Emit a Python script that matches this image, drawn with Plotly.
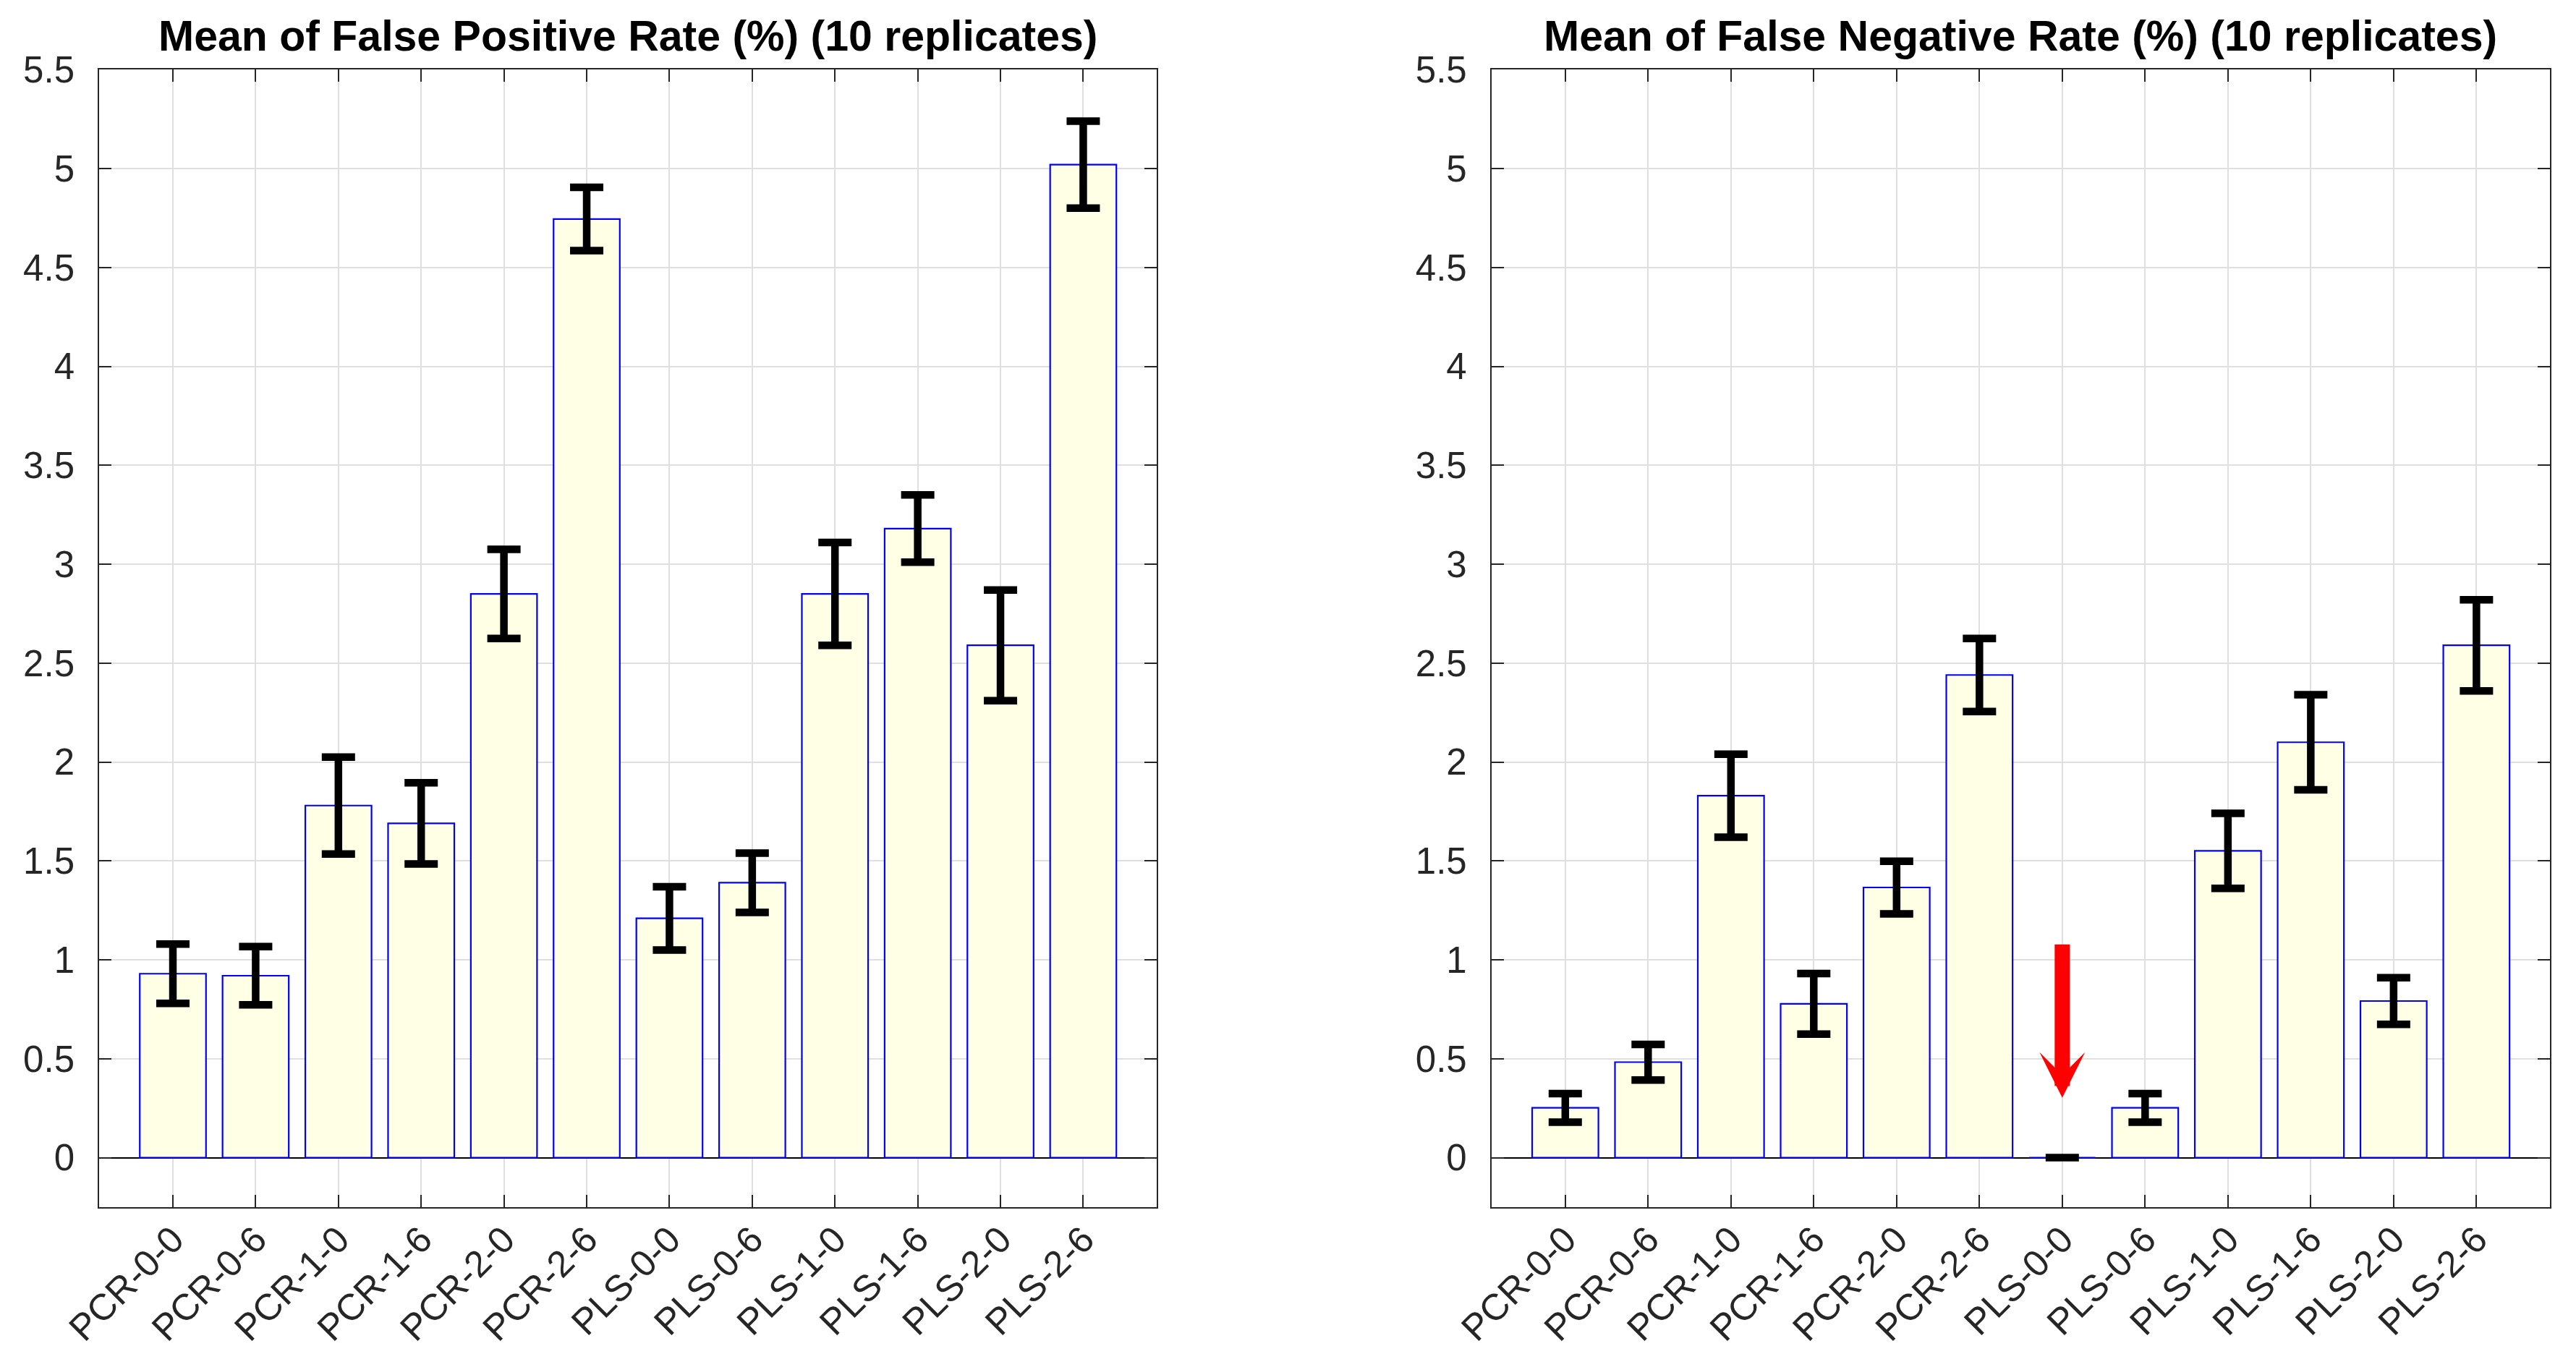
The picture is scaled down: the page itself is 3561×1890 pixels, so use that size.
import plotly.graph_objects as go

categories = ["PCR-0-0", "PCR-0-6", "PCR-1-0", "PCR-1-6", "PCR-2-0", "PCR-2-6",
              "PLS-0-0", "PLS-0-6", "PLS-1-0", "PLS-1-6", "PLS-2-0", "PLS-2-6"]

fpr_mean = [0.93, 0.92, 1.78, 1.69, 2.85, 4.745, 1.21, 1.39, 2.85, 3.18, 2.59, 5.02]
fpr_err = [0.15, 0.147, 0.245, 0.205, 0.225, 0.16, 0.16, 0.15, 0.26, 0.17, 0.28, 0.22]

fnr_mean = [0.252, 0.483, 1.83, 0.778, 1.366, 2.44, 0.0, 0.252, 1.551, 2.10, 0.792, 2.59]
fnr_err = [0.072, 0.09, 0.21, 0.153, 0.133, 0.185, 0.0, 0.072, 0.19, 0.24, 0.118, 0.23]

titles = ["Mean of False Positive Rate (%) (10 replicates)",
          "Mean of False Negative Rate (%) (10 replicates)"]

y_ticks = [0, 0.5, 1, 1.5, 2, 2.5, 3, 3.5, 4, 4.5, 5, 5.5]
y_tick_text = ["0", "0.5", "1", "1.5", "2", "2.5", "3", "3.5", "4", "4.5", "5", "5.5"]

arrow_category = "PLS-0-0"
arrow_tail = 1.084
arrow_tip = 0.303

W, H = 3561, 1890
FONT = "Liberation Sans, Arial, Helvetica, sans-serif"
AX = "#262626"

left_dom = [129.3 / W, 1590.7 / W]
right_dom = [2054.0 / W, 3516.7 / W]
y_dom = [1 - 1661.0 / H, 1 - 88.3 / H]

fig = go.Figure()

for i, (vals, errs) in enumerate([(fpr_mean, fpr_err), (fnr_mean, fnr_err)]):
    xa = "x" if i == 0 else "x2"
    ya = "y" if i == 0 else "y2"
    fig.add_trace(go.Bar(
        x=categories, y=vals, width=0.8,
        marker=dict(color="#FFFFE6", line=dict(color="#0000FF", width=2.2)),
        error_y=dict(type="data", array=errs, visible=True, color="#000000",
                     thickness=10.5, width=23),
        xaxis=xa, yaxis=ya, showlegend=False,
    ))

common_x = dict(
    type="category", range=[-0.889, 11.885], tickangle=-45,
    showline=True, linecolor=AX, linewidth=2.2, mirror="ticks",
    ticks="inside", ticklen=17, tickwidth=2.2, tickcolor=AX,
    showgrid=True, gridcolor="#dfdfdf", gridwidth=2,
    tickfont=dict(family=FONT, size=51, color=AX),
    ticklabelstandoff=-8, automargin=False,
)
common_y = dict(
    range=[-0.25, 5.5], tickmode="array", tickvals=y_ticks, ticktext=y_tick_text,
    showline=True, linecolor=AX, linewidth=2.2, mirror="ticks",
    ticks="inside", ticklen=17, tickwidth=2.2, tickcolor=AX,
    showgrid=True, gridcolor="#dfdfdf", gridwidth=2,
    zeroline=True, zerolinecolor="#000000", zerolinewidth=2.2,
    tickfont=dict(family=FONT, size=51, color=AX),
    ticklabelstandoff=22, automargin=False,
)

fig.update_layout(
    width=W, height=H, autosize=False,
    margin=dict(l=0, r=0, t=0, b=0, pad=0, autoexpand=False),
    paper_bgcolor="white", plot_bgcolor="white",
    showlegend=False,
    xaxis=dict(domain=left_dom, anchor="y", **common_x),
    yaxis=dict(domain=y_dom, anchor="x", **common_y),
    xaxis2=dict(domain=right_dom, anchor="y2", **common_x),
    yaxis2=dict(domain=y_dom, anchor="x2", **common_y),
)

for dom, t in zip([left_dom, right_dom], titles):
    fig.add_annotation(
        text="<b>%s</b>" % t, xref="paper", yref="paper",
        x=(dom[0] + dom[1]) / 2, y=1 - 42.0 / H,
        xanchor="center", yanchor="middle", showarrow=False,
        font=dict(family=FONT, size=59, color="#000000"),
    )

fig.add_annotation(
    x=arrow_category, y=arrow_tip, ax=arrow_category, ay=arrow_tail,
    xref="x2", yref="y2", axref="x2", ayref="y2",
    text="", showarrow=True, arrowhead=3, arrowsize=0.5,
    arrowwidth=21, arrowcolor="#FF0000",
)

fig.write_html("out.html")
